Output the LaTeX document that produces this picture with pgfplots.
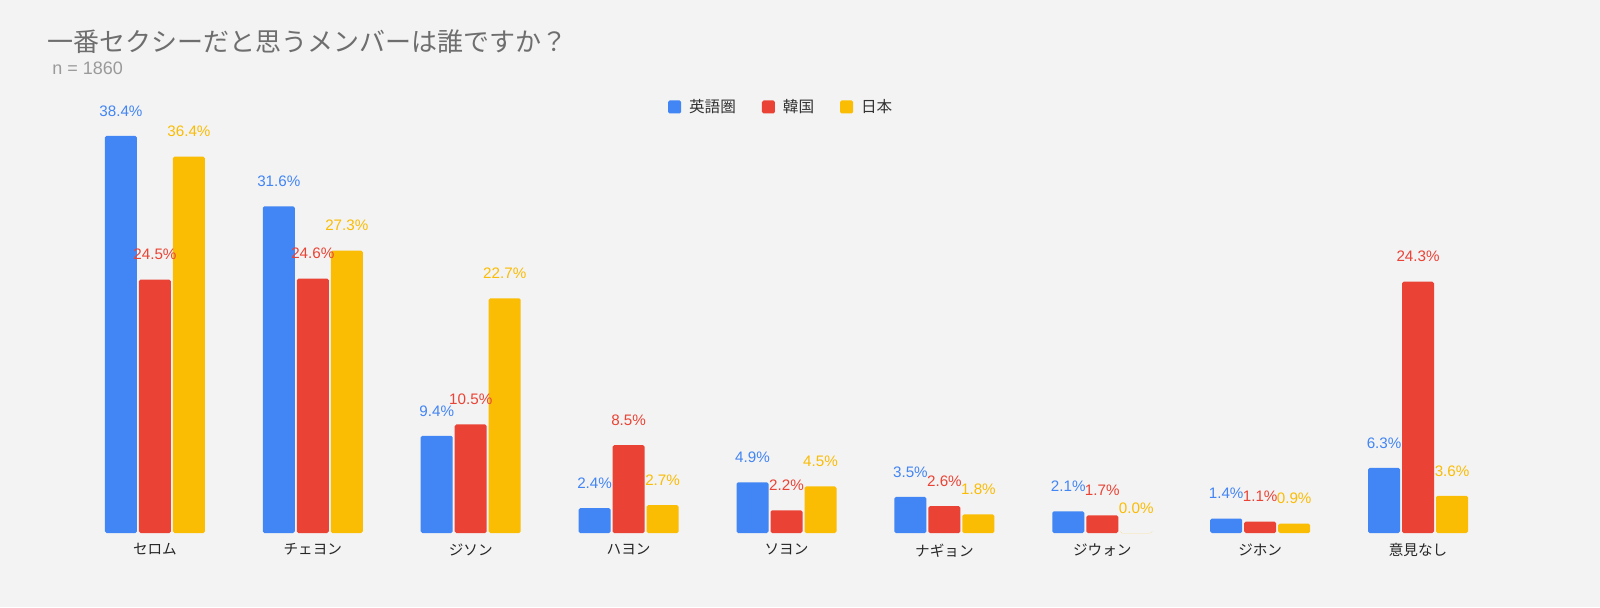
\documentclass[border=0pt]{standalone}
\usepackage{pgfplots}
\pgfplotsset{compat=1.18}
\usepackage{fontspec}
\setmainfont{Liberation Sans}
\newfontfamily\jp{Noto Sans CJK JP}
\definecolor{bg}{HTML}{F3F3F3}
\definecolor{cblue}{HTML}{4285F4}
\definecolor{cred}{HTML}{EA4335}
\definecolor{cyel}{HTML}{FBBC04}
\definecolor{titlegray}{HTML}{6E6E6E}
\definecolor{subgray}{HTML}{9A9A9A}
\pgfplotsset{/pgf/number format/assume math mode=true}
\begin{document}
\begin{tikzpicture}
\fill[bg] (0,0) rectangle (800pt,303.5pt);
\path[use as bounding box] (0,0) rectangle (800pt,303.5pt);
\node[anchor=west, text=titlegray, font=\jp\fontsize{13}{15}\selectfont, inner sep=0pt] at (23.5pt,282.5pt) {一番セクシーだと思うメンバーは誰ですか？};
\node[anchor=west, text=subgray, font=\fontsize{9}{11}\selectfont, inner sep=0pt] at (26pt,269.5pt) {n = 1860};
\begin{axis}[
  at={(38pt,37pt)}, anchor=south west,
  scale only axis, width=710.5pt, height=206.8pt,
  xmin=-0.5, xmax=8.5, ymin=0, ymax=40,
  clip=false,
  ybar=1pt, bar width=16pt,
  axis line style={draw=none},
  tick style={draw=none},
  ytick=\empty,
  xtick={0,...,8},
  xticklabels={セロム,チェヨン,ジソン,ハヨン,ソヨン,ナギョン,ジウォン,ジホン,意見なし},
  xticklabel style={font=\jp\fontsize{7.3}{8}\selectfont, text=black!85, yshift=2.5pt},
  nodes near coords={\pgfmathprintnumber[fixed,fixed zerofill,precision=1]{\pgfplotspointmeta}\%},
  nodes near coords style={font=\fontsize{7.6}{9}\selectfont, anchor=center, yshift=12.5pt},
  legend columns=3,
  legend style={draw=none, fill=none, at={(0.497,1.03)}, anchor=center,
    font=\jp\fontsize{7.8}{9}\selectfont, text=black!80,
    /tikz/every odd column/.append style={column sep=2pt},
    /tikz/every even column/.append style={column sep=11pt}},
  legend image code/.code={\fill[#1] (0pt,-3.25pt) rectangle (6.5pt,3.25pt);},
]
\addplot[fill=cblue, draw=none, rounded corners=0.8pt, nodes near coords style={text=cblue}] coordinates {(0,38.4) (1,31.6) (2,9.4) (3,2.4) (4,4.9) (5,3.5) (6,2.1) (7,1.4) (8,6.3)};
\addplot[fill=cred, draw=none, rounded corners=0.8pt, nodes near coords style={text=cred}] coordinates {(0,24.5) (1,24.6) (2,10.5) (3,8.5) (4,2.2) (5,2.6) (6,1.7) (7,1.1) (8,24.3)};
\addplot[fill=cyel, draw=none, rounded corners=0.8pt, nodes near coords style={text=cyel}] coordinates {(0,36.4) (1,27.3) (2,22.7) (3,2.7) (4,4.5) (5,1.8) (6,0.0) (7,0.9) (8,3.6)};
\legend{英語圏,韓国,日本}
\end{axis}
\end{tikzpicture}
\end{document}
